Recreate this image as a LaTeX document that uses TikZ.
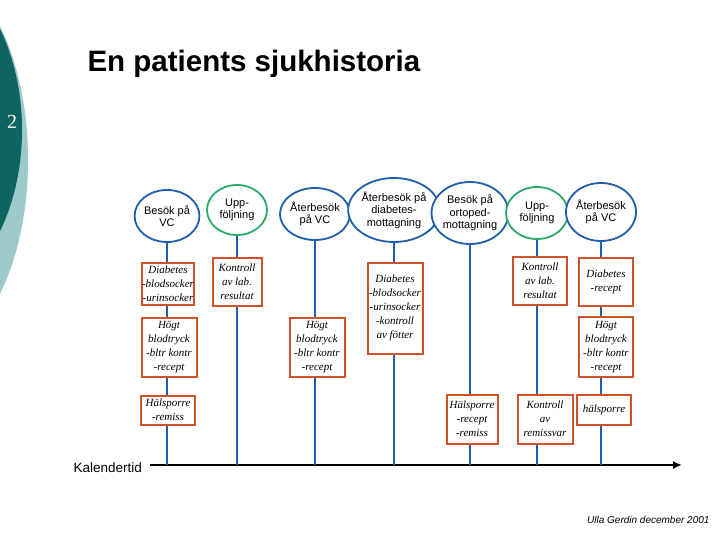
\documentclass[tikz,border=0pt]{standalone}
\usepackage{fontspec}
\setmainfont{Liberation Serif}
\newfontfamily\sansf{Liberation Sans}
\usetikzlibrary{arrows.meta,shapes.geometric}
\definecolor{dteal}{HTML}{0E6461}
\definecolor{lteal}{HTML}{9CC9CA}
\definecolor{vblue}{HTML}{1F5FAA}
\definecolor{vgreen}{HTML}{2EAA6A}
\definecolor{borange}{HTML}{D2502A}
\tikzset{
 ev/.style={ellipse,draw=vblue,line width=1.8pt,fill=white,minimum width=60pt,minimum height=50pt,inner sep=0pt,align=center,font=\sansf\fontsize{11}{12.5}\selectfont},
 evg/.style={ev,draw=vgreen},
 bx/.style={draw=borange,line width=2pt,fill=white,inner sep=0.5pt,align=center,font=\itshape\fontsize{11}{14}\selectfont},
 vl/.style={draw=vblue,line width=1.8pt}
}
\begin{document}
\begin{tikzpicture}[x=1pt,y=-1pt]
\useasboundingbox (0,0) rectangle (720,540);
\fill[lteal] (-75,160) ellipse [x radius=103, y radius=195];
\fill[dteal] (-90,130) ellipse [x radius=112, y radius=170];
\node[text=white,font=\fontsize{20}{20}\selectfont] (num) at (12,122) {2};
\node[font=\sansf\bfseries\fontsize{29.5}{32}\selectfont,anchor=west] (title) at (84,64) {En patients sjukhistoria};
\node[font=\sansf\fontsize{13.5}{14}\selectfont,anchor=west] (kal) at (70,468) {Kalendertid};
\coordinate (t0) at (150,465);
\coordinate (t1) at (682,465);
\draw[line width=2.2pt,-{Latex[length=9pt,width=8pt]}] (t0) -- (t1);
\foreach \n/\x in {a/167,b/237,c/315,d/394,e/470,f/537,g/601} \coordinate (b\n) at (\x,465);
% ellipses
\node[ev,minimum width=62pt,minimum height=52pt] (ea) at (167,216) {Besök på\\VC};
\node[evg,minimum width=60pt,minimum height=50pt] (eb) at (237,210) {Upp-\\följning};
\node[ev,minimum width=62pt,minimum height=52pt] (ec) at (315,214) {Återbesök\\på VC};
\node[ev,minimum width=70pt,minimum height=64pt] (ed) at (394,210) {Återbesök på\\diabetes-\\mottagning};
\node[ev,minimum width=68pt,minimum height=62pt] (ee) at (470,213) {Besök på\\ortoped-\\mottagning};
\node[evg,minimum width=62pt,minimum height=52pt] (ef) at (537,213) {Upp-\\följning};
\node[ev,minimum width=62pt,minimum height=58pt] (eg) at (601,212) {Återbesök\\på VC};
\draw[vl] (ea) -- (ba); \draw[vl] (eb) -- (bb); \draw[vl] (ec) -- (bc);
\draw[vl] (ed) -- (bd); \draw[vl] (ee) -- (be); \draw[vl] (ef) -- (bf); \draw[vl] (eg) -- (bg);
% boxes
\node[bx,minimum width=52pt,minimum height=42pt] (a1) at (168,284) {Diabetes\\-blodsocker\\-urinsocker};
\node[bx,minimum width=55pt,minimum height=59pt] (a2) at (169,347) {Högt\\blodtryck\\-bltr kontr\\-recept};
\node[bx,minimum width=54pt,minimum height=29pt] (a3) at (168,410) {Hälsporre\\-remiss};
\node[bx,minimum width=49pt,minimum height=48pt] (b1) at (237,282) {Kontroll\\av lab.\\resultat};
\node[bx,minimum width=55pt,minimum height=59pt] (c1) at (317,347) {Högt\\blodtryck\\-bltr kontr\\-recept};
\node[bx,minimum width=55pt,minimum height=91pt] (d1) at (395,308) {Diabetes\\-blodsocker\\-urinsocker\\-kontroll\\av fötter};
\node[bx,minimum width=51pt,minimum height=49pt] (e1) at (472,419) {Hälsporre\\-recept\\-remiss};
\node[bx,minimum width=54pt,minimum height=48pt] (f1) at (540,281) {Kontroll\\av lab.\\resultat};
\node[bx,minimum width=55pt,minimum height=49pt] (f2) at (545,419) {Kontroll\\av\\remissvar};
\node[bx,minimum width=54pt,minimum height=48pt] (g1) at (606,282) {Diabetes\\-recept};
\node[bx,minimum width=54pt,minimum height=60pt] (g2) at (606,347) {Högt\\blodtryck\\-bltr kontr\\-recept};
\node[bx,minimum width=54pt,minimum height=30pt] (g3) at (604,410) {hälsporre};
\node[font=\sansf\itshape\fontsize{10}{11}\selectfont,anchor=east] (auth) at (713,520) {Ulla Gerdin december 2001};
\end{tikzpicture}
\end{document}
